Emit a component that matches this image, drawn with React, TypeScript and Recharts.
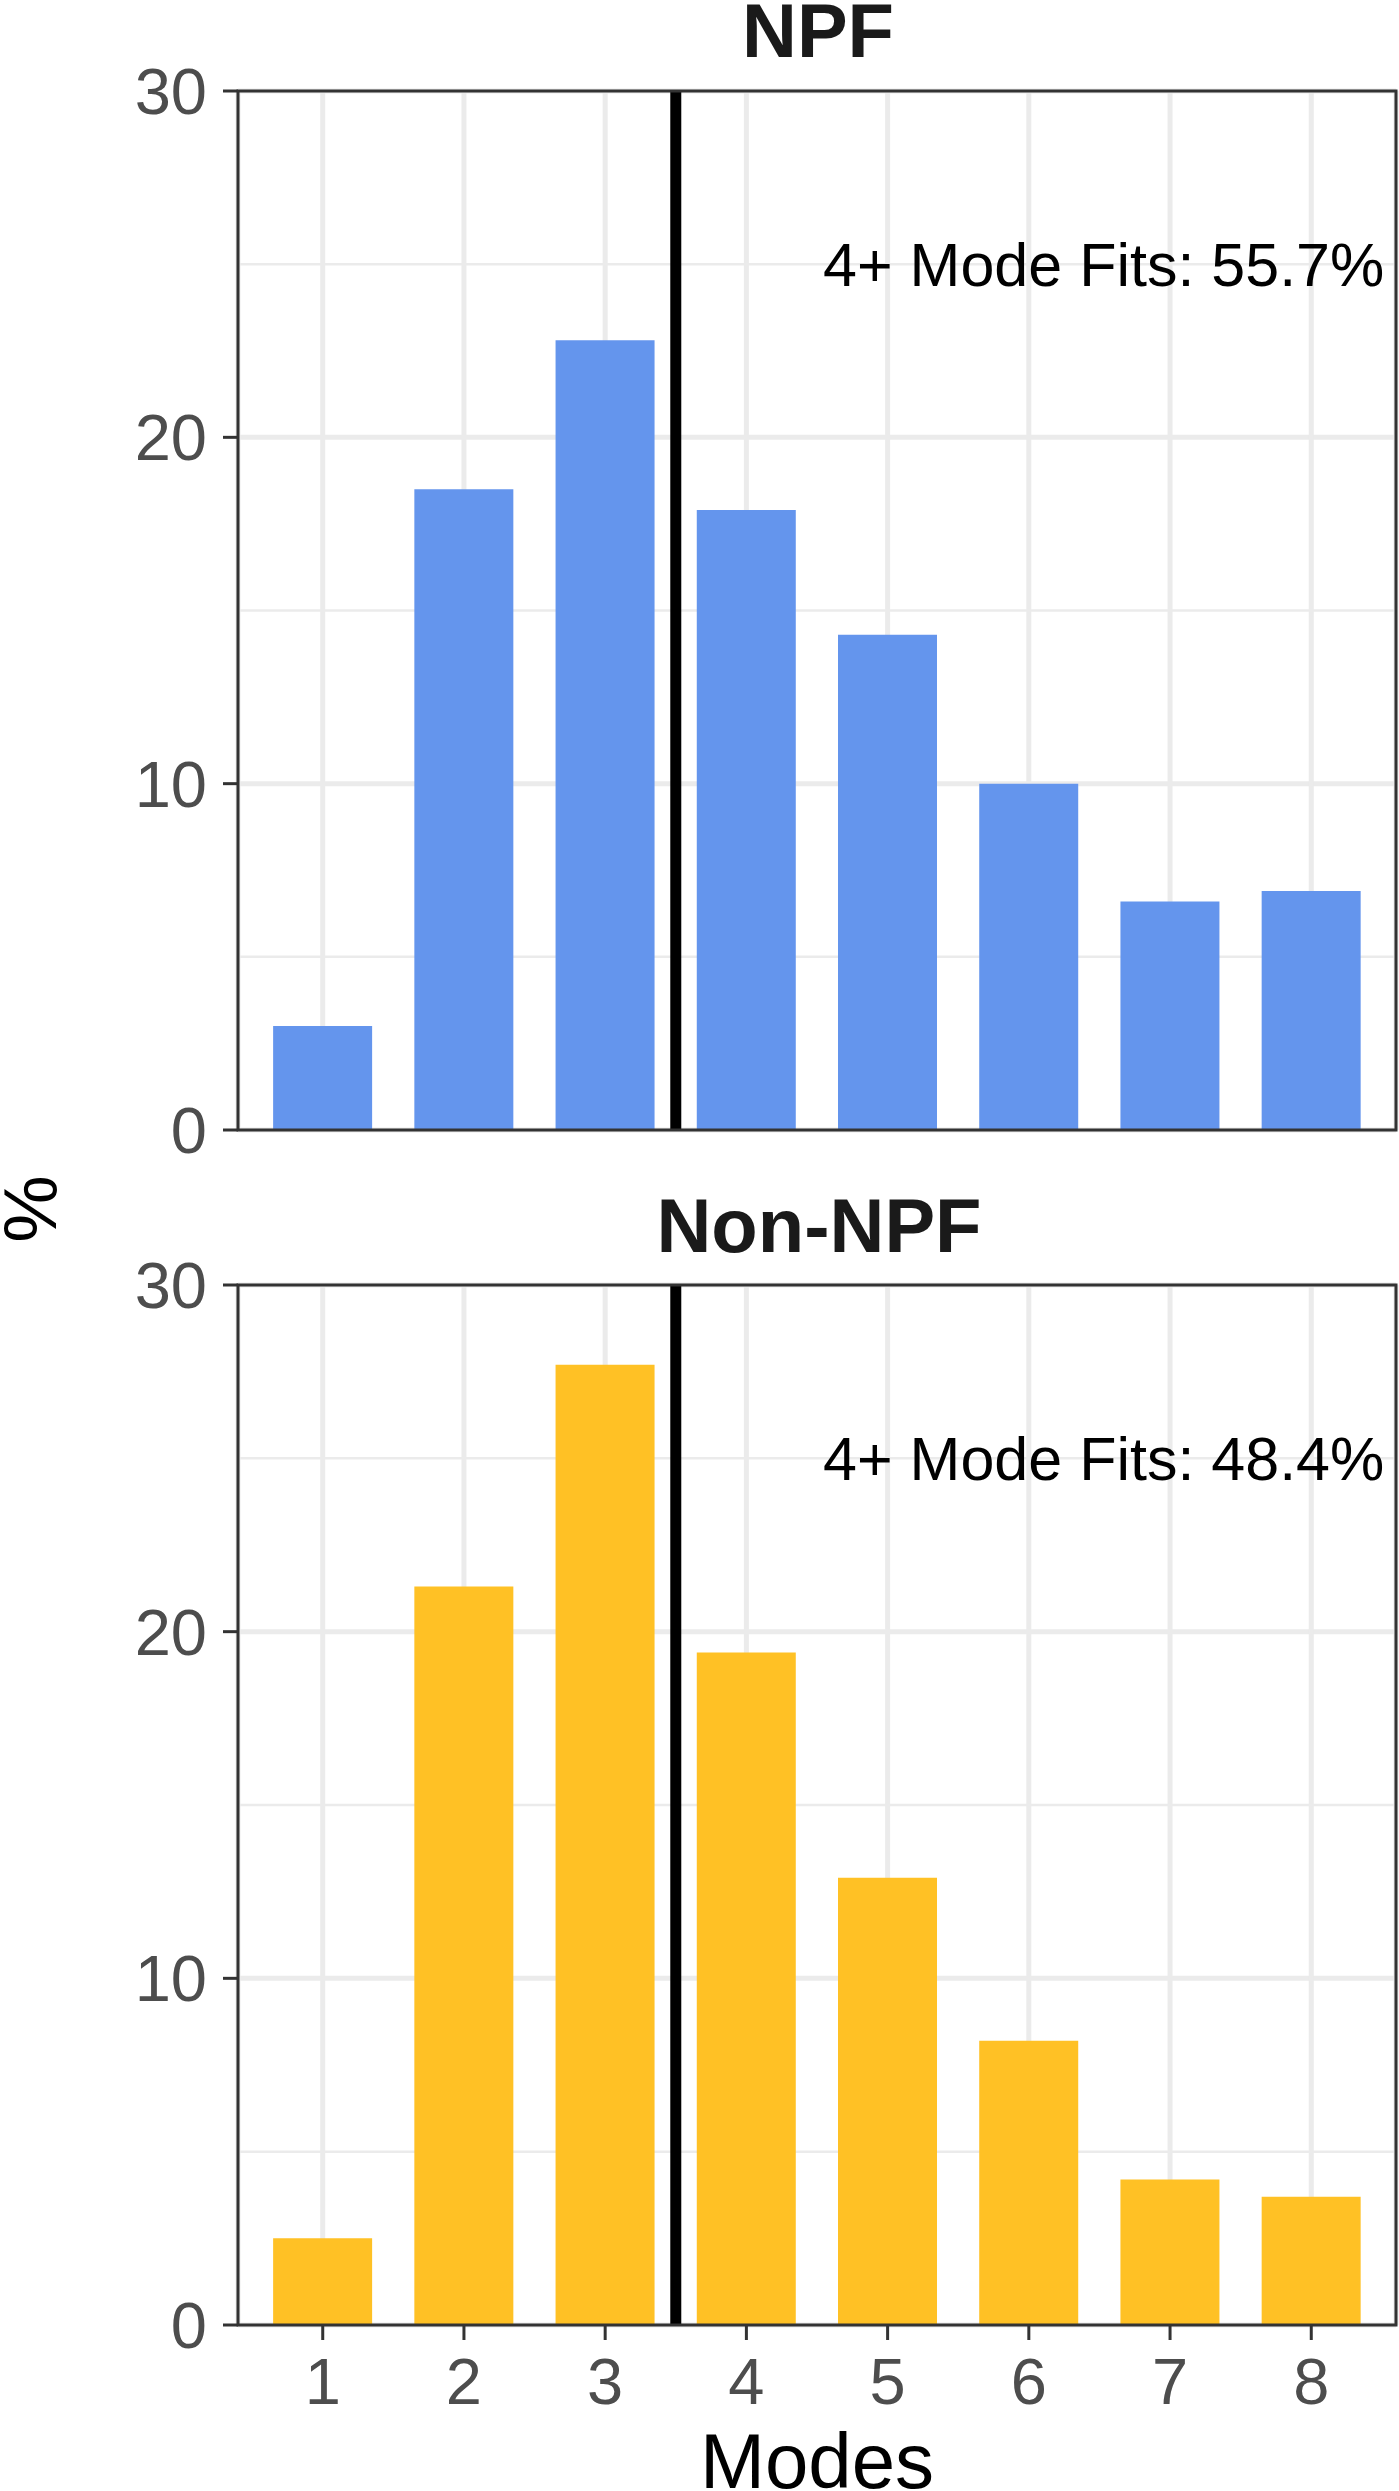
import React from 'react';
import { BarChart, Bar, XAxis, YAxis, CartesianGrid, ReferenceLine, ReferenceArea, ReferenceDot } from 'recharts';

// values (% of fits per number of modes)
const modes = [1, 2, 3, 4, 5, 6, 7, 8];
const npfPct = [3.0, 18.5, 22.8, 17.9, 14.3, 10.0, 6.6, 6.9];
const nonNpfPct = [2.5, 21.3, 27.7, 19.4, 12.9, 8.2, 4.2, 3.7];
const panelTitles = ['NPF', 'Non-NPF'];
const fitLabels = ['4+ Mode Fits: 55.7%', '4+ Mode Fits: 48.4%'];
const yTicks = [0, 10, 20, 30];
const yMinor = [5, 15, 25];

const FONT = '"Liberation Sans", Arial, Helvetica, sans-serif';
const W = 1399;

const buildRows = (vals: number[]) => modes.map((m, i) => ({ mode: m, pct: vals[i] }));

interface PanelProps {
  vals: number[];
  color: string;
  fitLabel: string;
  showX: boolean;
  height: number;
  margin: { top: number; right: number; bottom: number; left: number };
  xHeight: number;
}

const Panel: React.FC<PanelProps> = ({ vals, color, fitLabel, showX, height, margin, xHeight }) => {
  const data = buildRows(vals);

  const fitText = (props: any) => {
    const vb = props.viewBox || {};
    const cx = (vb.x || 0) + (vb.width || 0) / 2;
    const cy = (vb.y || 0) + (vb.height || 0) / 2;
    return (
      <text x={cx} y={cy + 22} textAnchor="middle" fontSize={61} fontFamily={FONT} fill="#000">
        {fitLabel}
      </text>
    );
  };

  const modesLabel = (props: any) => {
    const vb = props.viewBox || {};
    return (
      <text x={vb.x + vb.width / 2} y={vb.y + vb.height - 3} textAnchor="middle" fontSize={78} fontFamily={FONT} fill="#000">
        Modes
      </text>
    );
  };

  return (
    <BarChart width={W} height={height} data={data} margin={margin}>
      <CartesianGrid stroke="#EBEBEB" strokeWidth={5} />
      {yMinor.map((v) => (
        <ReferenceLine key={v} y={v} stroke="#EBEBEB" strokeWidth={2.5} zIndex={-50} />
      ))}
      <XAxis
        dataKey="mode"
        type="number"
        domain={[0.4, 8.6]}
        ticks={modes}
        interval={0}
        height={xHeight}
        axisLine={false}
        tick={showX ? { fill: '#4D4D4D', fontSize: 65, fontFamily: FONT } : { fill: 'transparent', fontSize: 1 }}
        tickLine={showX ? { stroke: '#333333', strokeWidth: 3 } : false}
        tickSize={15}
        tickMargin={18}
        label={showX ? modesLabel : undefined}
      />
      <YAxis
        type="number"
        domain={[0, 30]}
        ticks={yTicks}
        interval={0}
        width={238}
        axisLine={false}
        tick={{ fill: '#4D4D4D', fontSize: 65, fontFamily: FONT }}
        tickLine={{ stroke: '#333333', strokeWidth: 3 }}
        tickSize={15}
        tickMargin={16}
      />
      <Bar dataKey="pct" fill={color} barSize={99} isAnimationActive={false} />
      <ReferenceLine x={3.5} stroke="#000000" strokeWidth={11} zIndex={900} />
      <ReferenceArea x1={0.4} x2={8.6} y1={0} y2={30} fill="none" fillOpacity={0} stroke="#333333" strokeWidth={3} zIndex={1000} />
      <ReferenceDot x={6.53} y={25} r={1} fill="none" stroke="none" label={fitText} zIndex={1000} />
    </BarChart>
  );
};

const App: React.FC = () => {
  return (
    <div style={{ position: 'absolute', left: 0, top: 0, width: W, height: 2491, background: '#fff', overflow: 'hidden' }}>
      <div style={{ position: 'absolute', left: 0, top: 0 }}>
        <Panel
          vals={npfPct}
          color="#6495ED"
          fitLabel={fitLabels[0]}
          showX={false}
          height={1180}
          margin={{ top: 91, right: 3, bottom: 50, left: 0 }}
          xHeight={0}
        />
      </div>
      <div style={{ position: 'absolute', left: 0, top: 1140 }}>
        <Panel
          vals={nonNpfPct}
          color="#FFC125"
          fitLabel={fitLabels[1]}
          showX={true}
          height={1351}
          margin={{ top: 145, right: 3, bottom: 0, left: 0 }}
          xHeight={166}
        />
      </div>
      <svg width={W} height={2491} style={{ position: 'absolute', left: 0, top: 0, pointerEvents: 'none' }}>
        <text x={818} y={57} textAnchor="middle" fontSize={76} fontWeight="bold" fontFamily={FONT} fill="#1A1A1A">
          {panelTitles[0]}
        </text>
        <text x={819} y={1252} textAnchor="middle" fontSize={76} fontWeight="bold" fontFamily={FONT} fill="#1A1A1A">
          {panelTitles[1]}
        </text>
        <text x={56} y={1209} transform="rotate(-90 56 1209)" textAnchor="middle" fontSize={76} fontFamily={FONT} fill="#000">
          %
        </text>
      </svg>
    </div>
  );
};

export default App;
